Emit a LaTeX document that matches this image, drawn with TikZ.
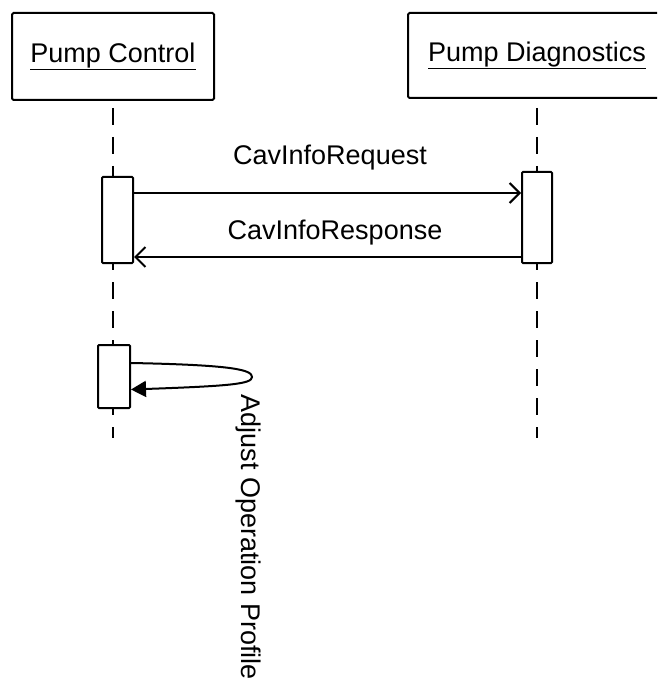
\documentclass[tikz,border=0pt]{standalone}
\usepackage{fontspec}
\setmainfont{Liberation Sans}
\usepackage{tikz}
\usetikzlibrary{arrows.meta}

\begin{document}
\begin{tikzpicture}[
  x=1pt, y=-1pt,
  lifebox/.style={draw,line width=2pt,rounded corners=1.5pt,minimum width=202pt,minimum height=87pt,inner sep=0pt,font=\fontsize{27}{31}\selectfont},
  actbox/.style={draw,fill=white,line width=2pt,rounded corners=1pt,minimum width=30pt,inner sep=0pt},
  lifeline/.style={line width=2pt,dash pattern=on 17pt off 12pt},
  msg/.style={line width=2pt,-{Straight Barb[length=10pt,width=20pt,line width=2pt]}},
  selfmsg/.style={line width=2pt,-{Triangle[length=15pt,width=16pt]}},
  lbl/.style={font=\fontsize{27}{31}\selectfont}
]
  \clip (0,0) rectangle (657,684);

  % participants
  \node[lifebox] (ctrl) at (113,56.5) {\underline{Pump Control}};
  \node[lifebox, minimum width=258pt, minimum height=85pt] (diag) at (537,55.5) {\underline{Pump Diagnostics}};

  \coordinate (ctrlend) at (113,438);
  \coordinate (diagend) at (537,438);
  \draw[lifeline] ([yshift=-7pt]ctrl.south) -- (ctrl.south |- ctrlend);
  \draw[lifeline] ([yshift=-9pt]diag.south) -- (diag.south |- diagend);

  % activations
  \node[actbox, minimum width=31pt, minimum height=86pt] (act1) at (117.5,220) {};
  \node[actbox, minimum height=91pt] (act2) at (537,217.5) {};
  \node[actbox, minimum width=32pt, minimum height=63pt] (act3) at (114,376.5) {};

  % messages
  \draw[msg] ([yshift=27pt]act1.east) -- ([yshift=27pt]act1.east -| act2.west);
  \draw[msg] ([yshift=-39.5pt]act2.west) -- ([yshift=-39.5pt]act2.west -| act1.east);
  \node[lbl, anchor=base] (reqlbl) at (330,165) {CavInfoRequest};
  \node[lbl, anchor=base] (reslbl) at (335,240) {CavInfoResponse};

  % self call
  \coordinate (selftip) at (252,377);
  \draw[selfmsg] ([yshift=13.5pt]act3.east) .. controls (235,365) and (252,370) .. (selftip)
    .. controls (252,384) and (230,386) .. ([yshift=-13pt]act3.east);
  \node[lbl, rotate=-90, anchor=base west] (adjlbl) at (241,391) {Adjust Operation Profile};
\end{tikzpicture}
\end{document}
